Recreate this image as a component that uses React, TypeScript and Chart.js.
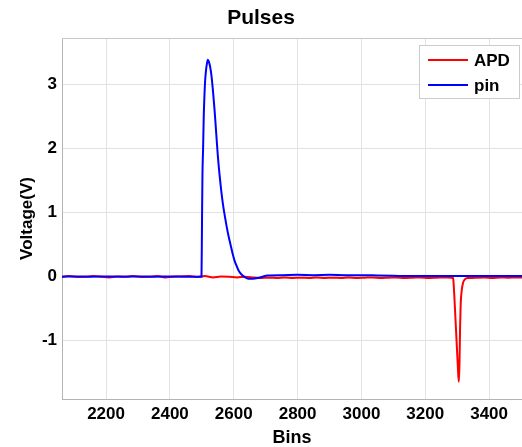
import { useEffect, useRef } from 'react';
import { Chart, registerables } from 'chart.js';

Chart.register(...registerables);

const FONT = '"Liberation Sans", Arial, Helvetica, sans-serif';

const titleText = 'Pulses';
const xTitle = 'Bins';
const yTitle = 'Voltage(V)';
const xTicks = [2200, 2400, 2600, 2800, 3000, 3200, 3400];
const yTicks = [-1, 0, 1, 2, 3];
const seriesNames = ['APD', 'pin'];
const seriesColors = ['#ff0000', '#0000ff'];

const apdBins = [
  2062, 2085, 2110, 2135, 2160, 2185, 2210, 2235, 2260, 2285, 2310, 2335, 2360, 2385,
  2410, 2435, 2460, 2485, 2510, 2535, 2560, 2585, 2610, 2635, 2660, 2685, 2710, 2735,
  2760, 2785, 2810, 2835, 2860, 2885, 2910, 2935, 2960, 2985, 3010, 3035, 3060, 3085,
  3110, 3135, 3160, 3185, 3210, 3235, 3260, 3280, 3287, 3288, 3291, 3295, 3299, 3302,
  3305, 3307, 3309, 3311, 3314, 3318, 3324, 3332, 3345, 3360, 3385, 3410, 3435, 3460,
  3485, 3503,
];
const apdValues = [
  0.0, 0.01, -0.005, 0.0, 0.01, 0.0, -0.01, 0.005, 0.0, 0.01, -0.005, 0.0, 0.01, -0.01,
  0.0, 0.005, 0.01, -0.005, 0.01, -0.01, 0.005, 0.0, -0.01, 0.0, -0.01, -0.02, -0.015, -0.02,
  -0.01, -0.02, -0.015, -0.02, -0.01, -0.02, -0.015, -0.02, -0.01, -0.02, -0.015, -0.01, -0.02, -0.015,
  -0.01, -0.02, -0.015, -0.01, -0.02, -0.015, -0.01, -0.015, -0.02, -0.05, -0.3, -0.7, -1.1, -1.4,
  -1.64, -1.4, -0.8, -0.42, -0.22, -0.1, -0.04, -0.02, -0.02, -0.015, -0.01, -0.02, -0.01, -0.015,
  -0.01, -0.01,
];

const pinBins = [
  2062, 2100, 2150, 2200, 2250, 2300, 2350, 2400, 2450, 2490, 2499, 2500.5, 2502, 2504,
  2506, 2508, 2510, 2513, 2516, 2519, 2522, 2526, 2530, 2535, 2540, 2545, 2550, 2555,
  2560, 2566, 2572, 2578, 2584, 2590, 2596, 2602, 2608, 2614, 2620, 2628, 2636, 2645,
  2660, 2675, 2690, 2705, 2750, 2800, 2850, 2900, 2950, 3000, 3050, 3100, 3150, 3200,
  3250, 3300, 3350, 3400, 3450, 3503,
];
const pinValues = [
  0.0, 0.005, 0.0, 0.005, 0.0, 0.005, 0.0, 0.005, 0.0, 0.0, 0.0, 0.8, 1.6, 2.0,
  2.5, 2.8, 3.03, 3.22, 3.33, 3.39, 3.36, 3.28, 3.15, 2.9, 2.6, 2.25, 1.9, 1.62,
  1.38, 1.14, 0.95, 0.78, 0.63, 0.5, 0.37, 0.26, 0.18, 0.11, 0.06, 0.02, -0.01, -0.03,
  -0.03, -0.02, 0.0, 0.02, 0.025, 0.03, 0.025, 0.03, 0.025, 0.025, 0.02, 0.015, 0.01, 0.01,
  0.01, 0.01, 0.01, 0.01, 0.01, 0.01,
];

const legendBox = {
  id: 'legendBox',
  afterDatasetsDraw(chart: any) {
    const { ctx, chartArea } = chart;
    const w = 101;
    const h = 54;
    const x = chartArea.right - w - 2;
    const y = chartArea.top + 7;
    ctx.save();
    ctx.fillStyle = '#ffffff';
    ctx.fillRect(x, y, w, h);
    ctx.strokeStyle = '#cccccc';
    ctx.lineWidth = 1;
    ctx.strokeRect(x + 0.5, y + 0.5, w - 1, h - 1);
    ctx.font = `bold 17px ${FONT}`;
    ctx.textBaseline = 'middle';
    ctx.textAlign = 'left';
    seriesNames.forEach((name, i) => {
      const ly = y + 15 + i * 25;
      ctx.strokeStyle = seriesColors[i];
      ctx.lineWidth = 2;
      ctx.beginPath();
      ctx.moveTo(x + 9, ly);
      ctx.lineTo(x + 49, ly);
      ctx.stroke();
      ctx.fillStyle = '#000000';
      ctx.fillText(name, x + 55, ly + 1);
    });
    ctx.restore();
  },
};

const topBorder = {
  id: 'topBorder',
  beforeDatasetsDraw(chart: any) {
    const { ctx, chartArea } = chart;
    ctx.save();
    ctx.strokeStyle = '#c8c8c8';
    ctx.lineWidth = 1;
    ctx.beginPath();
    ctx.moveTo(chartArea.left, chartArea.top + 0.5);
    ctx.lineTo(chartArea.right, chartArea.top + 0.5);
    ctx.stroke();
    ctx.restore();
  },
};

export default function App() {
  const ref = useRef<HTMLCanvasElement | null>(null);

  useEffect(() => {
    document.body.style.margin = '0';
    const canvas = ref.current;
    if (!canvas) return;
    const tickFont = { family: FONT, size: 17, weight: 'bold' as const };
    const chart = new Chart(canvas, {
      type: 'line',
      data: {
        datasets: [
          {
            label: seriesNames[0],
            data: apdBins.map((b, i) => ({ x: b, y: apdValues[i] })),
            borderColor: seriesColors[0],
            backgroundColor: seriesColors[0],
            borderWidth: 2,
            pointRadius: 0,
            cubicInterpolationMode: 'monotone',
            order: 2,
          },
          {
            label: seriesNames[1],
            data: pinBins.map((b, i) => ({ x: b, y: pinValues[i] })),
            borderColor: seriesColors[1],
            backgroundColor: seriesColors[1],
            borderWidth: 2,
            pointRadius: 0,
            cubicInterpolationMode: 'monotone',
            order: 1,
          },
        ],
      },
      options: {
        animation: false,
        responsive: false,
        maintainAspectRatio: false,
        layout: { padding: 0 },
        plugins: {
          legend: { display: false },
          tooltip: { enabled: false },
          title: {
            display: true,
            text: titleText,
            color: '#000000',
            font: { family: FONT, size: 21, weight: 'bold' },
            padding: { top: 6, bottom: 6.8 },
          },
        },
        scales: {
          x: {
            type: 'linear',
            min: 2062,
            max: 3503,
            afterBuildTicks: (s: any) => {
              s.ticks = xTicks.map((v) => ({ value: v }));
            },
            afterFit: (s: any) => {
              s.height = 48;
            },
            ticks: {
              autoSkip: false,
              maxRotation: 0,
              padding: 5,
              color: '#000000',
              font: tickFont,
              callback: (v: any) => String(v),
            },
            grid: { color: '#e2e2e2', drawTicks: false },
            border: { color: '#b4b4b4' },
            title: {
              display: true,
              text: xTitle,
              color: '#000000',
              font: { family: FONT, size: 18, weight: 'bold' },
              padding: { top: 0, bottom: -2 },
            },
          },
          y: {
            type: 'linear',
            min: -1.91,
            max: 3.73,
            afterBuildTicks: (s: any) => {
              s.ticks = yTicks.map((v) => ({ value: v }));
            },
            afterFit: (s: any) => {
              s.width = 62;
            },
            ticks: {
              autoSkip: false,
              padding: 5,
              color: '#000000',
              font: tickFont,
              callback: (v: any) => String(v),
            },
            grid: { color: '#e2e2e2', drawTicks: false },
            border: { color: '#b4b4b4' },
            title: {
              display: true,
              text: yTitle,
              color: '#000000',
              font: { family: FONT, size: 17, weight: 'bold' },
              padding: { top: 17, bottom: 0 },
            },
          },
        },
      },
      plugins: [topBorder, legendBox],
    });
    return () => chart.destroy();
  }, []);

  return <canvas ref={ref} width={522} height={447} style={{ display: 'block', width: 522, height: 447 }} />;
}
